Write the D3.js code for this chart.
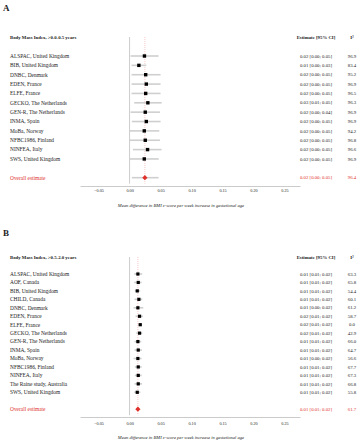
<!DOCTYPE html>
<html>
<head>
<meta charset="utf-8">
<script src="https://cdn.jsdelivr.net/npm/d3@7"></script>
<style>
  body { margin: 0; background: #fff; }
  svg { display: block; }
</style>
</head>
<body>
<div id="chart"></div>
<script>
// Panel A data
var studiesA = ["ALSPAC, United Kingdom", "BIB, United Kingdom", "DNBC, Denmark", "EDEN, France", "ELFE, France",
  "GECKO, The Netherlands", "GEN-R, The Netherlands", "INMA, Spain", "MoBa, Norway", "NFBC1986, Finland",
  "NINFEA, Italy", "SWS, United Kingdom"];
var estA = [0.024, 0.015, 0.026, 0.027, 0.026, 0.0295, 0.0253, 0.027, 0.0237, 0.0253, 0.029, 0.0237];
var lowA = [0.0016, 0.0032, 0.0032, 0.0032, 0.0032, 0.0075, 0.0016, 0.0037, 0.0, 0.0, 0.0054, 0.0];
var highA = [0.0468, 0.027, 0.05, 0.05, 0.05, 0.0518, 0.049, 0.05, 0.048, 0.049, 0.0516, 0.047];
var ciTextA = ["0.02 [0.00; 0.05]", "0.01 [0.00; 0.03]", "0.02 [0.00; 0.05]", "0.02 [0.00; 0.05]", "0.02 [0.00; 0.05]",
  "0.03 [0.01; 0.05]", "0.02 [0.00; 0.04]", "0.02 [0.00; 0.05]", "0.02 [0.00; 0.05]", "0.02 [0.00; 0.05]",
  "0.02 [0.00; 0.05]", "0.02 [0.00; 0.05]"];
var i2A = ["96.9", "83.4", "95.2", "96.9", "96.5", "96.3", "96.9", "96.9", "94.2", "96.8", "96.6", "96.9"];
var overallA = { est: 0.0247, low: 0.0037, high: 0.0468, text: "0.02 [0.00; 0.05]", i2: "96.4" };

// Panel B data
var studiesB = ["ALSPAC, United Kingdom", "AOF, Canada", "BIB, United Kingdom", "CHILD, Canada", "DNBC, Denmark",
  "EDEN, France", "ELFE, France", "GECKO, The Netherlands", "GEN-R, The Netherlands", "INMA, Spain",
  "MoBa, Norway", "NFBC1986, Finland", "NINFEA, Italy", "The Raine study, Australia", "SWS, United Kingdom"];
var estB = [0.0134, 0.014, 0.0124, 0.015, 0.0134, 0.0161, 0.0172, 0.0161, 0.0134, 0.014, 0.0134, 0.014, 0.014, 0.014, 0.0124];
var lowB = [0.0075, 0.0075, 0.0085, 0.008, 0.0065, 0.0097, 0.0145, 0.0108, 0.008, 0.008, 0.0065, 0.0085, 0.0085, 0.008, 0.0075];
var highB = [0.0204, 0.0194, 0.0172, 0.0205, 0.0221, 0.0215, 0.02, 0.0205, 0.0188, 0.02, 0.0194, 0.0195, 0.0195, 0.02, 0.0175];
var ciTextB = ["0.01 [0.01; 0.02]", "0.01 [0.01; 0.02]", "0.01 [0.01; 0.02]", "0.01 [0.01; 0.02]", "0.01 [0.00; 0.02]",
  "0.02 [0.01; 0.02]", "0.02 [0.01; 0.02]", "0.02 [0.01; 0.02]", "0.01 [0.01; 0.02]", "0.01 [0.01; 0.02]",
  "0.01 [0.00; 0.02]", "0.01 [0.01; 0.02]", "0.01 [0.01; 0.02]", "0.01 [0.01; 0.02]", "0.01 [0.01; 0.02]"];
var i2B = ["63.3", "65.8", "54.4", "60.1", "61.2", "58.7", "0.0", "42.9", "66.0", "64.7", "56.6", "67.7", "67.3", "66.8", "55.8"];
var overallB = { est: 0.0134, low: 0.0105, high: 0.016, text: "0.01 [0.01; 0.02]", i2: "61.7" };

var tickValues = [-0.05, 0.00, 0.05, 0.10, 0.15, 0.20, 0.25];
var axisTitle = "Mean difference in BMI z-score per week increase in gestational age";

var colors = {
  text: "#222",
  grey: "#cfcfcf",
  axis: "#b5b5b5",
  red: "#e0312c",
  refLine: "#f2a7a7"
};

var svg = d3.select("#chart").append("svg")
  .attr("width", 358)
  .attr("height", 440)
  .attr("font-family", "'Liberation Serif', 'Times New Roman', serif");

var x = d3.scaleLinear().domain([-0.08, 0.275]).range([80, 300]);

drawPanel({
  letter: "A", letterY: 11,
  title: "Body Mass Index, >0.0-0.5 years", titleY: 37,
  studies: studiesA, est: estA, low: lowA, high: highA, ciText: ciTextA, i2: i2A, overall: overallA,
  rowY0: 56, rowStep: 9.36, axisY: 186, tickY: 191, axisTitleY: 205, sq: 3.4
});

drawPanel({
  letter: "B", letterY: 236,
  title: "Body Mass Index, >0.5-2.0 years", titleY: 257,
  studies: studiesB, est: estB, low: lowB, high: highB, ciText: ciTextB, i2: i2B, overall: overallB,
  rowY0: 274, rowStep: 8.45, axisY: 417, tickY: 424, axisTitleY: 437.5, sq: 3.2
});

function drawPanel(p) {
  var g = svg.append("g");
  var n = p.studies.length;
  var y = function (i) { return p.rowY0 + i * p.rowStep; };
  var overallY = y(n + 1);

  g.append("text")
    .attr("x", 3).attr("y", p.letterY)
    .attr("font-size", 9).attr("font-weight", "bold")
    .attr("fill", colors.text)
    .text(p.letter);

  // headers
  g.append("text").attr("x", 10).attr("y", p.titleY).attr("dy", "0.35em")
    .attr("font-size", 4.8).attr("font-weight", "bold").attr("fill", colors.text)
    .text(p.title);
  g.append("text").attr("x", 316).attr("y", p.titleY).attr("dy", "0.35em")
    .attr("text-anchor", "middle")
    .attr("font-size", 4.8).attr("font-weight", "bold").attr("fill", colors.text)
    .text("Estimate [95% CI]");
  g.append("text").attr("x", 352).attr("y", p.titleY).attr("dy", "0.35em")
    .attr("text-anchor", "middle")
    .attr("font-size", 4.8).attr("font-weight", "bold").attr("fill", colors.text)
    .text("I²");

  // zero line and overall reference line
  g.append("line")
    .attr("x1", x(0)).attr("x2", x(0))
    .attr("y1", p.titleY).attr("y2", overallY + 6)
    .attr("stroke", colors.axis).attr("stroke-width", 0.7);
  g.append("line")
    .attr("x1", x(p.overall.est)).attr("x2", x(p.overall.est))
    .attr("y1", p.titleY).attr("y2", overallY + 6)
    .attr("stroke", colors.refLine).attr("stroke-width", 0.6)
    .attr("stroke-dasharray", "1,1");

  var rows = g.selectAll(".row")
    .data(d3.range(n))
    .enter().append("g")
    .attr("class", "row");

  rows.append("line")
    .attr("x1", function (i) { return x(p.low[i]); })
    .attr("x2", function (i) { return x(p.high[i]); })
    .attr("y1", function (i) { return y(i); })
    .attr("y2", function (i) { return y(i); })
    .attr("stroke", colors.grey).attr("stroke-width", 1.6);

  rows.append("rect")
    .attr("x", function (i) { return x(p.est[i]) - p.sq / 2; })
    .attr("y", function (i) { return y(i) - p.sq / 2; })
    .attr("width", p.sq).attr("height", p.sq)
    .attr("fill", "#000");

  rows.append("text")
    .attr("x", 10).attr("y", function (i) { return y(i); }).attr("dy", "0.35em")
    .attr("font-size", 5.4).attr("fill", colors.text)
    .text(function (i) { return p.studies[i]; });

  rows.append("text")
    .attr("x", 316).attr("y", function (i) { return y(i); }).attr("dy", "0.35em")
    .attr("text-anchor", "middle")
    .attr("font-size", 4.8).attr("fill", colors.text)
    .text(function (i) { return p.ciText[i]; });

  rows.append("text")
    .attr("x", 352).attr("y", function (i) { return y(i); }).attr("dy", "0.35em")
    .attr("text-anchor", "middle")
    .attr("font-size", 4.8).attr("fill", colors.text)
    .text(function (i) { return p.i2[i]; });

  // overall estimate
  g.append("line")
    .attr("x1", x(p.overall.low)).attr("x2", x(p.overall.high))
    .attr("y1", overallY).attr("y2", overallY)
    .attr("stroke", colors.grey).attr("stroke-width", 1.6);
  var cx = x(p.overall.est), d = 2.6;
  g.append("path")
    .attr("d", "M" + (cx - d) + "," + overallY + "L" + cx + "," + (overallY - d) +
      "L" + (cx + d) + "," + overallY + "L" + cx + "," + (overallY + d) + "Z")
    .attr("fill", colors.red);
  g.append("text").attr("x", 10).attr("y", overallY).attr("dy", "0.35em")
    .attr("font-size", 5.4).attr("fill", colors.red).text("Overall estimate");
  g.append("text").attr("x", 316).attr("y", overallY).attr("dy", "0.35em")
    .attr("text-anchor", "middle").attr("font-size", 4.8).attr("fill", colors.red)
    .text(p.overall.text);
  g.append("text").attr("x", 352).attr("y", overallY).attr("dy", "0.35em")
    .attr("text-anchor", "middle").attr("font-size", 4.8).attr("fill", colors.red)
    .text(p.overall.i2);

  // x axis
  var axis = d3.axisBottom(x)
    .tickValues(tickValues)
    .tickSize(0)
    .tickPadding(4)
    .tickFormat(d3.format(".2f"));
  var ax = g.append("g")
    .attr("transform", "translate(0," + p.axisY + ")")
    .call(axis);
  ax.select(".domain").attr("stroke", colors.axis).attr("stroke-width", 0.7);
  ax.selectAll("text")
    .attr("font-size", 4.2)
    .attr("font-family", "'Liberation Serif', serif")
    .attr("fill", colors.text)
    .attr("y", p.tickY - p.axisY).attr("dy", "0.35em");

  g.append("text")
    .attr("x", 181).attr("y", p.axisTitleY).attr("dy", "0.35em")
    .attr("text-anchor", "middle")
    .attr("font-size", 4.6).attr("font-style", "italic")
    .attr("fill", colors.text)
    .text(axisTitle);
}
</script>
</body>
</html>
